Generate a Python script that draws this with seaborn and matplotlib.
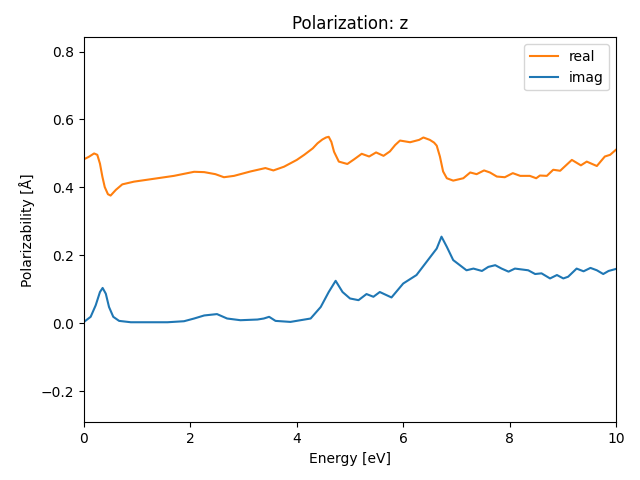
import matplotlib
matplotlib.use("Agg")
import matplotlib.pyplot as plt
import seaborn as sns
import pandas as pd

energy_real = [0.0, 0.09, 0.19, 0.25, 0.3, 0.345, 0.39, 0.45, 0.5, 0.6, 0.72, 0.94, 1.25, 1.69,
               2.07, 2.26, 2.47, 2.63, 2.82, 3.13, 3.41, 3.56, 3.76, 4.0, 4.14, 4.3, 4.39, 4.48,
               4.55, 4.6, 4.65, 4.7, 4.79, 4.95, 5.08, 5.22, 5.36, 5.49, 5.63, 5.75, 5.85, 5.94,
               6.13, 6.3, 6.38, 6.5, 6.58, 6.63, 6.69, 6.75, 6.82, 6.94, 7.13, 7.26, 7.38,
               7.52, 7.63, 7.76, 7.91, 8.06, 8.2, 8.38, 8.5, 8.57, 8.7, 8.82, 8.95, 9.17, 9.34,
               9.45, 9.64, 9.79, 9.89, 10.0]
real = [0.483, 0.49, 0.5, 0.496, 0.47, 0.432, 0.401, 0.38, 0.376, 0.393, 0.409, 0.417, 0.424,
        0.434, 0.446, 0.445, 0.439, 0.43, 0.434, 0.447, 0.457, 0.45, 0.461, 0.481, 0.496,
        0.515, 0.53, 0.541, 0.547, 0.549, 0.534, 0.505, 0.476, 0.469, 0.483, 0.499, 0.491,
        0.503, 0.493, 0.506, 0.525, 0.538, 0.533, 0.54, 0.547, 0.54, 0.532, 0.523, 0.491,
        0.447, 0.427, 0.42, 0.427, 0.444, 0.439, 0.45, 0.444, 0.432, 0.43, 0.442, 0.434,
        0.434, 0.427, 0.435, 0.434, 0.452, 0.449, 0.481, 0.465, 0.476, 0.463, 0.491, 0.496,
        0.511]

energy_imag = [0.0, 0.125, 0.22, 0.3, 0.35, 0.41, 0.47, 0.55, 0.66, 0.88, 1.57, 1.88, 2.07,
               2.26, 2.5, 2.69, 2.94, 3.26, 3.38, 3.48, 3.6, 3.88, 4.26, 4.45, 4.6, 4.73, 4.86,
               5.0, 5.16, 5.31, 5.44, 5.56, 5.78, 6.0, 6.25, 6.44, 6.63, 6.72, 6.82, 6.94,
               7.19, 7.32, 7.48, 7.6, 7.73, 7.85, 7.98, 8.1, 8.35, 8.48, 8.6, 8.76, 8.89, 9.01,
               9.1, 9.26, 9.39, 9.52, 9.64, 9.76, 9.86, 10.0]
imag = [0.004, 0.019, 0.053, 0.092, 0.104, 0.087, 0.048, 0.019, 0.007, 0.003, 0.003, 0.006,
        0.014, 0.023, 0.027, 0.014, 0.009, 0.011, 0.014, 0.019, 0.007, 0.004, 0.014, 0.048,
        0.092, 0.125, 0.092, 0.073, 0.068, 0.086, 0.078, 0.092, 0.076, 0.117, 0.142, 0.181,
        0.22, 0.255, 0.225, 0.186, 0.156, 0.161, 0.154, 0.166, 0.171, 0.161, 0.152, 0.161,
        0.156, 0.145, 0.147, 0.132, 0.142, 0.132, 0.137, 0.161, 0.153, 0.163, 0.156, 0.145,
        0.154, 0.16]

df_real = pd.DataFrame({"Energy": energy_real, "value": real})
df_imag = pd.DataFrame({"Energy": energy_imag, "value": imag})

fig, ax = plt.subplots(figsize=(6.4, 4.8), dpi=100)
sns.lineplot(data=df_real, x="Energy", y="value", color="C1", label="real", ax=ax, linewidth=1.5)
sns.lineplot(data=df_imag, x="Energy", y="value", color="C0", label="imag", ax=ax, linewidth=1.5)
ax.set_xlim(0, 10)
ax.set_ylim(-0.2916, 0.842)
ax.set_title("Polarization: z")
ax.set_xlabel("Energy [eV]")
ax.set_ylabel("Polarizability [Å]")
ax.legend(loc="upper right")
fig.subplots_adjust(left=84 / 640, right=616 / 640, top=1 - 37.3 / 480, bottom=1 - 422.3 / 480)
fig.savefig("out.png", dpi=100)
